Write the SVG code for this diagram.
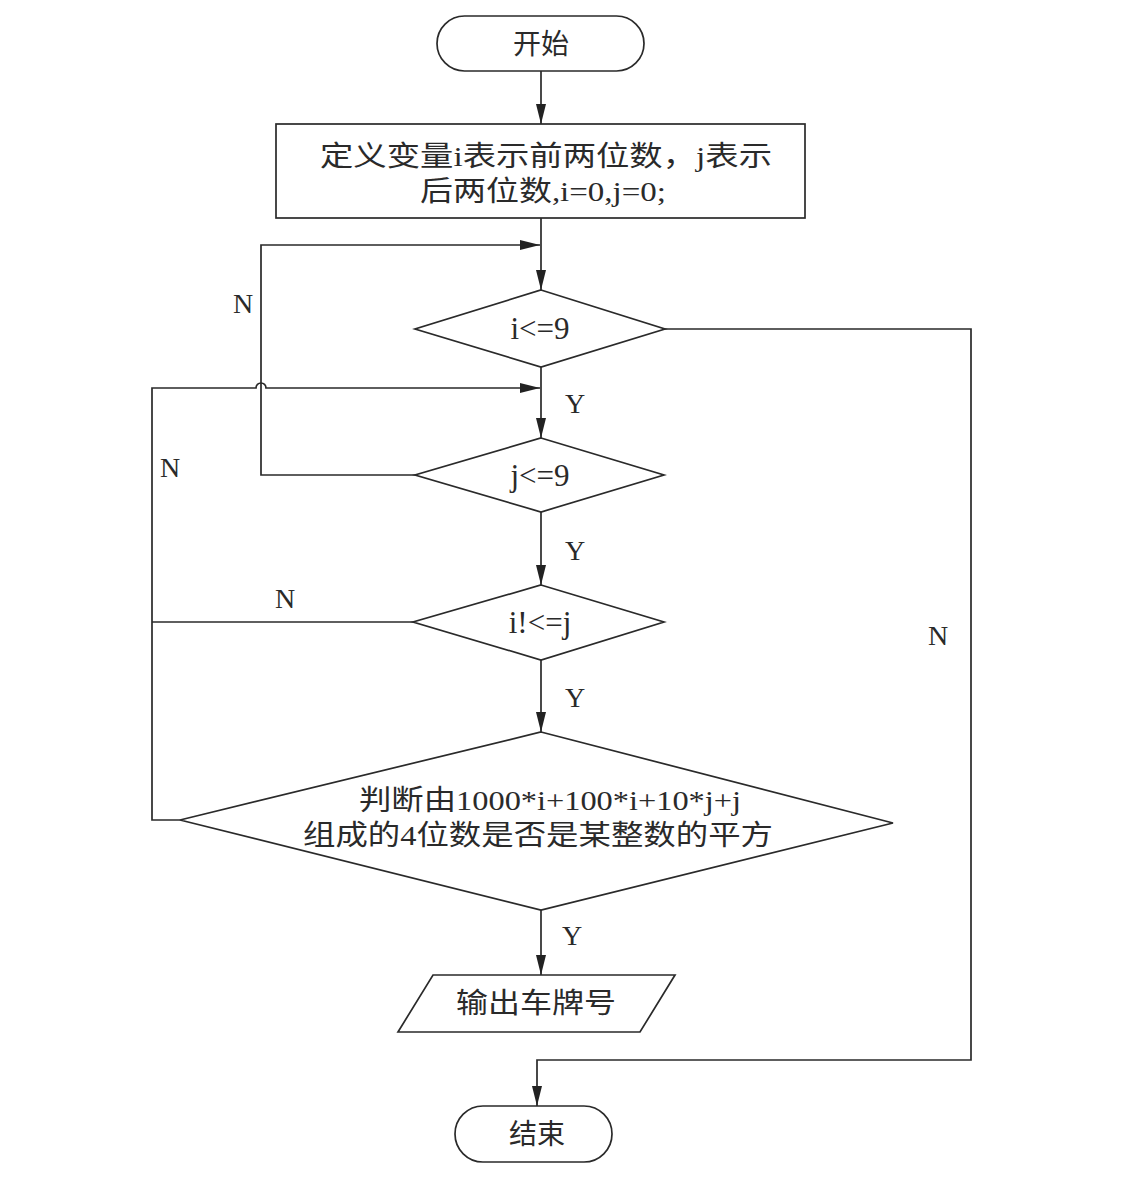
<svg xmlns="http://www.w3.org/2000/svg" width="1147" height="1190" viewBox="0 0 1147 1190">
<defs>
<marker id="ah" viewBox="0 0 20 10" refX="20" refY="5" markerWidth="20" markerHeight="10" markerUnits="userSpaceOnUse" orient="auto">
<path d="M0,0 L20,5 L0,10 Z" fill="#222"/>
</marker>
<style>
.s{fill:#fff;stroke:#2a2a2a;stroke-width:1.7}
.c{fill:none;stroke:#2a2a2a;stroke-width:1.7}
.t{font-family:"Liberation Serif","Noto Sans CJK SC",serif;font-size:28px;fill:#2a2a2a;text-anchor:middle}
.d{font-family:"Liberation Serif","Noto Sans CJK SC",serif;font-size:31px;fill:#2a2a2a;text-anchor:middle}
.l{font-family:"Liberation Serif","Noto Sans CJK SC",serif;font-size:28px;fill:#2a2a2a;text-anchor:middle}
</style>
</defs>
<rect width="1147" height="1190" fill="#fff"/>
<g id="connectors">
<line class="c" x1="541" y1="71" x2="541" y2="124" marker-end="url(#ah)"/>
<line class="c" x1="541" y1="218" x2="541" y2="290" marker-end="url(#ah)"/>
<line class="c" x1="541" y1="367" x2="541" y2="438" marker-end="url(#ah)"/>
<line class="c" x1="541" y1="512" x2="541" y2="585" marker-end="url(#ah)"/>
<line class="c" x1="541" y1="660" x2="541" y2="732" marker-end="url(#ah)"/>
<line class="c" x1="541" y1="910" x2="541" y2="975" marker-end="url(#ah)"/>
<polyline class="c" points="665,329 971,329 971,1060 537,1060 537,1106" marker-end="url(#ah)"/>
<polyline class="c" points="415,475 261,475 261,245 540,245" marker-end="url(#ah)"/>
<path class="c" d="M180,820 L152,820 L152,388 L256,388 A5,5 0 0 1 266,388 L540,388" marker-end="url(#ah)"/>
<line class="c" x1="413" y1="622" x2="152" y2="622"/>
</g>
<g id="start">
<rect class="s" x="437" y="16" width="207" height="55" rx="27.5"/>
<text class="t" x="541" y="54">开始</text>
</g>
<g id="init">
<rect class="s" x="276" y="124" width="529" height="94"/>
<text class="t" x="546" y="166" textLength="452" lengthAdjust="spacingAndGlyphs">定义变量i表示前两位数，j表示</text>
<text class="t" x="543" y="201" textLength="246" lengthAdjust="spacingAndGlyphs">后两位数,i=0,j=0;</text>
</g>
<g id="cond-i">
<polygon class="s" points="541,290 665,329 541,367 415,329"/>
<text class="d" x="540" y="339">i&lt;=9</text>
</g>
<g id="cond-j">
<polygon class="s" points="541,438 664,475 541,512 415,475"/>
<text class="d" x="540" y="486">j&lt;=9</text>
</g>
<g id="cond-ij">
<polygon class="s" points="541,585 664,622 541,660 413,622"/>
<text class="d" x="540" y="633">i!&lt;=j</text>
</g>
<g id="cond-square">
<polygon class="s" points="541,732 893,823 541,910 180,820"/>
<text class="t" x="550" y="810" textLength="382" lengthAdjust="spacingAndGlyphs">判断由1000*i+100*i+10*j+j</text>
<text class="t" x="538" y="845" textLength="470" lengthAdjust="spacingAndGlyphs">组成的4位数是否是某整数的平方</text>
</g>
<g id="output">
<polygon class="s" points="433,975 675,975 640,1032 398,1032"/>
<text class="t" x="536" y="1013" textLength="160" lengthAdjust="spacingAndGlyphs">输出车牌号</text>
</g>
<g id="end">
<rect class="s" x="455" y="1106" width="157" height="56" rx="28"/>
<text class="t" x="537" y="1144">结束</text>
</g>
<g id="labels">
<text class="l" x="575" y="413">Y</text>
<text class="l" x="575" y="560">Y</text>
<text class="l" x="575" y="707">Y</text>
<text class="l" x="572" y="945">Y</text>
<text class="l" x="243" y="313">N</text>
<text class="l" x="170" y="477">N</text>
<text class="l" x="285" y="608">N</text>
<text class="l" x="938" y="645">N</text>
</g>
</svg>
